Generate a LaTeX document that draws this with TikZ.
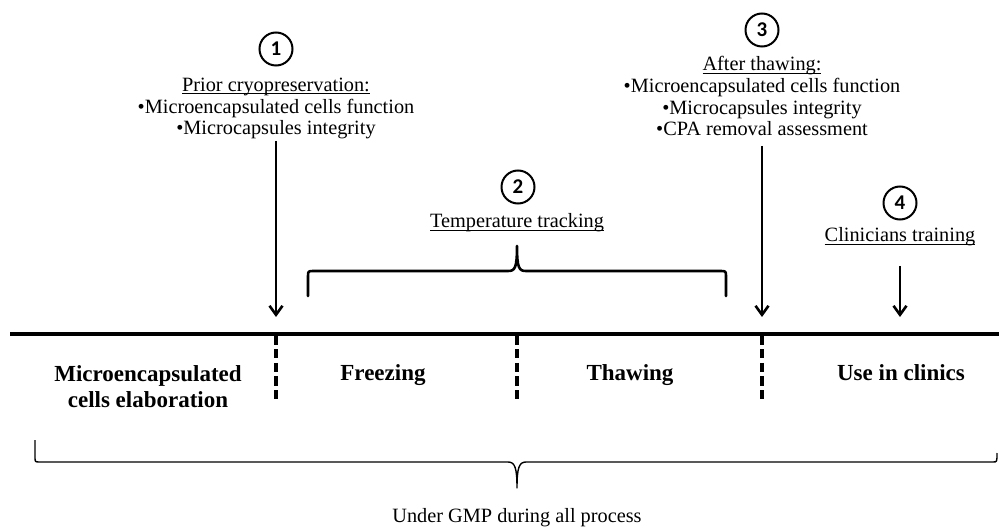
\documentclass[tikz,border=0pt]{standalone}
\usepackage{fontspec}
\setmainfont{Liberation Serif}
\newfontfamily\numfont{Carlito}
\usetikzlibrary{arrows.meta}
\newcommand\ulx[1]{{\setbox0\hbox{#1}\rlap{\rule[-3pt]{\wd0}{0.9pt}}\box0}}
\begin{document}
\begin{tikzpicture}[x=1pt,y=-1pt,
  numc/.style={circle,draw,line width=2pt,minimum size=33pt,inner sep=0pt,font=\numfont\bfseries\fontsize{21}{21}\selectfont},
  txt/.style={align=center,inner sep=0pt,font=\fontsize{20.3}{21.8}\selectfont},
  phase/.style={align=center,inner sep=0pt,font=\bfseries\fontsize{23}{26}\selectfont},
  arr/.style={line width=2.5pt,-{Straight Barb[length=9pt,width=13pt,line width=2.6pt]}},
  dsh/.style={line width=3.8pt,dash pattern=on 9pt off 4.5pt},
  brace/.style={line width=2.6pt,line join=round,line cap=round},
  thinbrace/.style={line width=1.4pt,line join=round}]
\useasboundingbox (0,0) rectangle (999,529);

% timeline
\coordinate (L) at (10,334);
\coordinate (R) at (999,334);
\draw[line width=4pt] (L) -- (R);

% dashed separators
\coordinate (d1t) at (276,336); \coordinate (d1b) at (276,402);
\coordinate (d2t) at (517,336); \coordinate (d2b) at (517,402);
\coordinate (d3t) at (762,336); \coordinate (d3b) at (762,402);
\draw[dsh] (d1t) -- (d1b);
\draw[dsh] (d2t) -- (d2b);
\draw[dsh] (d3t) -- (d3b);

% phases
\node[phase,anchor=base] (p1) at (148,407) {Microencapsulated\\cells elaboration};
\node[phase,anchor=base] (p2) at (383,381) {Freezing};
\node[phase,anchor=base] (p3) at (630,381) {Thawing};
\node[phase,anchor=base] (p4) at (901,381) {Use in clinics};

% step 1
\node[numc] (n1) at (276,49) {1};
\node[txt,anchor=base] (t1) at (276,135) {\ulx{Prior cryopreservation:}\\•Microencapsulated cells function\\•Microcapsules integrity};
\coordinate (a1) at (276,317);
\draw[arr] (276,141) -- (a1);

% step 2
\node[numc] (n2) at (518,187) {2};
\node[txt,anchor=base] (t2) at (517,228) {\ulx{Temperature tracking}};
\coordinate (b1) at (308,296);
\coordinate (b2) at (726,296);
\coordinate (bm) at (517,246);
\draw[brace] (b1) -- (308,277) .. controls (308,271) .. (314,271) -- (508,271)
  .. controls (515,271) and (517,268) .. (bm)
  .. controls (517,268) and (519,271) .. (526,271) -- (720,271)
  .. controls (726,271) .. (726,277) -- (b2);

% step 3
\node[numc] (n3) at (762,30) {3};
\node[txt,anchor=base] (t3) at (762,136) {\ulx{After thawing:}\\•Microencapsulated cells function\\•Microcapsules integrity\\•CPA removal assessment};
\coordinate (a3) at (762,317);
\draw[arr] (762,146) -- (a3);

% step 4
\node[numc] (n4) at (900,203) {4};
\node[txt,anchor=base] (t4) at (900,242) {\ulx{Clinicians training}};
\coordinate (a4) at (900,317);
\draw[arr] (900,266) -- (a4);

% bottom brace
\coordinate (c1) at (35,440);
\coordinate (c2) at (997,453);
\coordinate (cm) at (517,488);
\draw[thinbrace] (c1) -- (35,457) .. controls (35,462) .. (40,462) -- (508,462)
  .. controls (515,462) and (517,468) .. (cm)
  .. controls (517,468) and (519,462) .. (526,462) -- (993,462)
  .. controls (997,462) .. (c2);
\node[txt,anchor=base] (gmp) at (517,522) {Under GMP during all process};
\end{tikzpicture}
\end{document}
